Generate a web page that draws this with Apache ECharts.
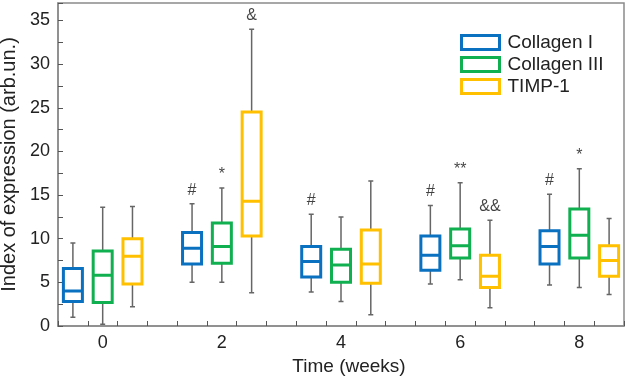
<!DOCTYPE html>
<html>
<head>
<meta charset="utf-8">
<script src="https://cdn.jsdelivr.net/npm/echarts@6/dist/echarts.min.js"></script>
<style>
  html, body { margin: 0; padding: 0; background: #fff; }
  #chart { width: 628px; height: 376px; }
</style>
</head>
<body>
<div id="chart"></div>
<script>
// slots on the x axis, half a week wide (boxes sit at week-0.5, week, week+0.5)
const positions = ["-0.5", "0", "0.5", "1", "1.5", "2", "2.5", "3", "3.5", "4",
    "4.5", "5", "5.5", "6", "6.5", "7", "7.5", "8", "8.5"];
const weekLabels = ["0", "2", "4", "6", "8"];
const weeks = [0, 2, 4, 6, 8];

// [min, Q1, median, Q3, max]
const collagen1 = [
    [1.0, 2.8, 4.0, 6.6, 9.5],
    [5.0, 7.1, 8.9, 10.7, 14.0],
    [3.9, 5.6, 7.4, 9.1, 12.8],
    [4.8, 6.4, 8.1, 10.3, 13.8],
    [4.7, 7.1, 9.1, 10.9, 15.1]
];
const collagen3 = [
    [0.2, 2.7, 5.8, 8.6, 13.6],
    [5.0, 7.2, 9.1, 11.8, 15.8],
    [2.8, 5.0, 7.0, 8.8, 12.5],
    [5.3, 7.8, 9.2, 11.1, 16.4],
    [4.4, 7.8, 10.4, 13.4, 18.0]
];
const timp1 = [
    [2.2, 4.8, 8.0, 10.0, 13.7],
    [3.8, 10.3, 14.3, 24.5, 34.0],
    [1.3, 4.9, 7.1, 11.0, 16.6],
    [2.1, 4.4, 5.7, 8.1, 12.1],
    [3.6, 5.7, 7.5, 9.2, 12.3]
];
// significance marks above each box
const collagen1Marks = ["", "#", "#", "#", "#"];
const collagen3Marks = ["", "*", "", "**", "*"];
const timp1Marks = ["", "&", "", "&&", ""];

const groups = [
    { name: "Collagen I", color: "#0a70c0", shift: -0.5, values: collagen1, marks: collagen1Marks },
    { name: "Collagen III", color: "#10b050", shift: 0, values: collagen3, marks: collagen3Marks },
    { name: "TIMP-1", color: "#ffc000", shift: 0.5, values: timp1, marks: timp1Marks }
];

const font = "Liberation Sans, Arial, sans-serif";
const frameColor = "#8a8a8a";

function slot(week, shift) {
    return String(week + shift);
}

// whiskers (gray) for all boxes
let whiskerRows = [];
let markRows = [];
groups.forEach(g => {
    g.values.forEach((v, i) => {
        whiskerRows.push([slot(weeks[i], g.shift)].concat(v));
        if (g.marks[i]) {
            markRows.push({ value: [slot(weeks[i], g.shift), v[4]], mark: g.marks[i] });
        }
    });
});

function makeXAxis(main) {
    return {
        type: "category",
        data: positions,
        show: main,
        boundaryGap: true,
        axisLine: { lineStyle: { color: frameColor, width: 1.5 } },
        axisTick: {
            show: main,
            inside: true,
            interval: 0,
            length: 5,
            lineStyle: { color: "#555", width: 1 }
        },
        axisLabel: {
            show: main,
            interval: (idx, val) => weekLabels.indexOf(val) >= 0,
            color: "#222",
            fontSize: 18,
            fontFamily: font,
            margin: 8
        },
        name: main ? "Time (weeks)" : "",
        nameLocation: "middle",
        nameGap: 27,
        nameTextStyle: {
            color: "#222",
            fontSize: 19,
            fontFamily: font,
            padding: [0, 0, 0, 16]
        }
    };
}

let series = [
    {
        name: "whiskers",
        type: "boxplot",
        xAxisIndex: 0,
        boxWidth: [5, 5],
        itemStyle: { color: "#fff", borderColor: "#666", borderWidth: 1.5 },
        encode: { x: 0, y: [1, 2, 3, 4, 5] },
        data: whiskerRows,
        silent: true,
        z: 2
    }
];

groups.forEach((g, k) => {
    series.push({
        name: g.name,
        type: "boxplot",
        xAxisIndex: k + 1,
        boxWidth: [19, 19],
        itemStyle: { color: "#fff", borderColor: g.color, borderWidth: 3 },
        encode: { x: 0, y: [1, 2, 3, 4, 5] },
        // box only: whiskers are drawn by the gray series
        data: g.values.map((v, i) => [slot(weeks[i], g.shift), v[1], v[1], v[2], v[3], v[3]]),
        z: 3
    });
});

series.push({
    name: "marks",
    type: "scatter",
    xAxisIndex: 0,
    symbolSize: 1,
    itemStyle: { color: "transparent" },
    label: {
        show: true,
        position: "top",
        distance: 5,
        formatter: p => p.data.mark,
        color: "#111",
        fontSize: 16,
        fontFamily: font
    },
    data: markRows,
    z: 4
});

const chart = echarts.init(document.getElementById("chart"));
chart.setOption({
    animation: false,
    backgroundColor: "#fff",
    grid: {
        left: 58,
        right: 4,
        top: 3,
        bottom: 50,
        outerBoundsMode: "none",
        show: true,
        borderColor: frameColor,
        borderWidth: 1.5
    },
    legend: {
        orient: "vertical",
        left: 455,
        top: 28,
        itemWidth: 38,
        itemHeight: 14,
        itemGap: 3,
        textStyle: { color: "#222", fontSize: 19, fontFamily: font, padding: [0, 0, 0, 3] },
        data: groups.map(g => ({
            name: g.name,
            icon: "rect",
            itemStyle: { color: "#fff", borderColor: g.color, borderWidth: 3 }
        }))
    },
    xAxis: [makeXAxis(true), makeXAxis(false), makeXAxis(false), makeXAxis(false)],
    yAxis: {
        type: "value",
        min: 0,
        max: 37,
        interval: 5,
        axisLine: { show: true, lineStyle: { color: frameColor, width: 1.5 } },
        axisTick: { show: true, inside: true, length: 5, lineStyle: { color: "#555" } },
        minorTick: { show: true, splitNumber: 2, length: 5, lineStyle: { color: "#555" } },
        splitLine: { show: false },
        axisLabel: { color: "#222", fontSize: 18, fontFamily: font, margin: 8, showMaxLabel: false },
        name: "Index of expression (arb.un.)",
        nameLocation: "middle",
        nameGap: 36,
        nameTextStyle: { color: "#222", fontSize: 20, fontFamily: font }
    },
    series: series
});
</script>
</body>
</html>
